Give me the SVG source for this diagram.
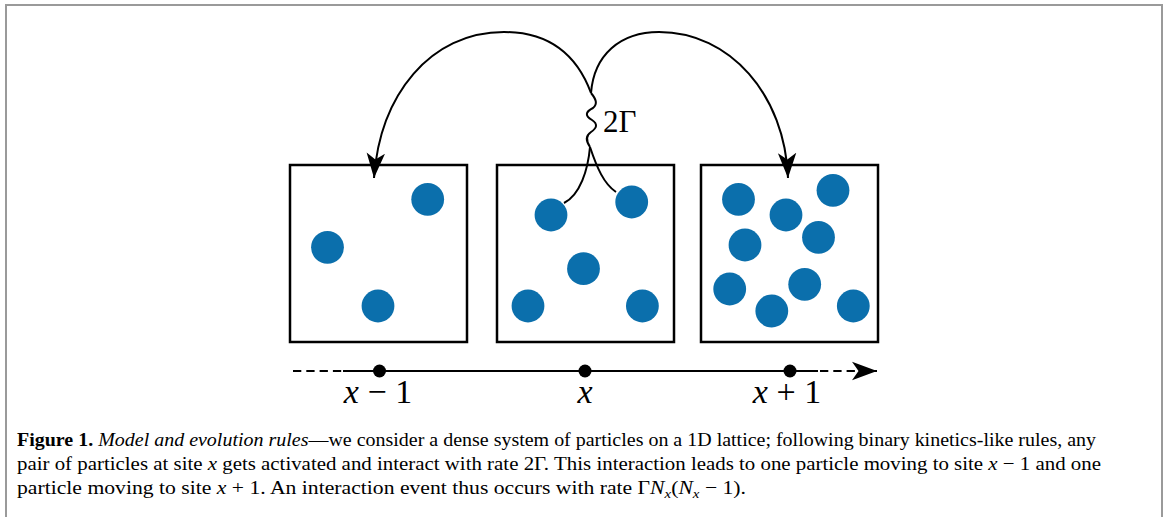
<svg xmlns="http://www.w3.org/2000/svg" width="1168" height="517" viewBox="0 0 1168 517">
<style>
.frame{fill:none;stroke:#9a9a9a;stroke-width:2}
.box{fill:#fff;stroke:#000;stroke-width:2.5}
.p{fill:#0b6fac}
.ln{fill:none;stroke:#000;stroke-width:2}
.dash{fill:none;stroke:#000;stroke-width:2;stroke-dasharray:8.3 5}
.dot{fill:#000}
.math{font-family:"Liberation Serif","DejaVu Serif",serif;fill:#000}
.cap{font-family:"Liberation Serif","DejaVu Serif",serif;font-size:19px;fill:#000}
</style>
<defs>
<marker id="stealth" viewBox="0 0 26 20" refX="25" refY="10" markerWidth="26" markerHeight="20" markerUnits="userSpaceOnUse" orient="auto">
<path d="M25,10 L0,0.8 L6.5,10 L0,19.2 Z" fill="#000"/>
</marker>
</defs>
<rect width="1168" height="517" fill="#fff"/>
<path class="frame" d="M6,520 V5 H1162 V520"/>

<g id="site-left">
<rect class="box" x="290" y="165" width="177" height="177"/>
<circle class="p" cx="427.7" cy="199.3" r="16.4"/>
<circle class="p" cx="327.5" cy="247.3" r="16.4"/>
<circle class="p" cx="378" cy="306" r="16.4"/>
</g>
<g id="site-center">
<rect class="box" x="497" y="165" width="177" height="177"/>
<circle class="p" cx="551" cy="215" r="16.4"/>
<circle class="p" cx="631.7" cy="202" r="16.4"/>
<circle class="p" cx="583.5" cy="268.7" r="16.4"/>
<circle class="p" cx="528" cy="306" r="16.4"/>
<circle class="p" cx="642.4" cy="306" r="16.4"/>
</g>
<g id="site-right">
<rect class="box" x="701" y="165" width="177" height="177"/>
<circle class="p" cx="738.5" cy="199.3" r="16.4"/>
<circle class="p" cx="833" cy="190.3" r="16.4"/>
<circle class="p" cx="786" cy="215" r="16.4"/>
<circle class="p" cx="745" cy="245" r="16.4"/>
<circle class="p" cx="818.5" cy="237.3" r="16.4"/>
<circle class="p" cx="729.7" cy="289" r="16.4"/>
<circle class="p" cx="804.7" cy="284.3" r="16.4"/>
<circle class="p" cx="771.8" cy="311" r="16.4"/>
<circle class="p" cx="853.3" cy="306" r="16.4"/>
</g>

<g id="connectors">
<path class="ln" d="M564,203 C580,195 588,170 590,147"/>
<path class="ln" d="M616,192 C604,184 597,168 590,147"/>
<path class="ln" d="M590,147 C586,141 585,136 591,132 C597,128 598,124 592,120 C585,116 585,112 593,108 C598,104 596,99 591,93"/>
<path class="ln" marker-end="url(#stealth)" d="M591,93 C575,50 545,32 504,32 C430,32 380,95 374,178"/>
<path class="ln" marker-end="url(#stealth)" d="M591,93 C594,55 620,32 659,32 C730,32 785,95 788,178"/>
</g>
<g id="rate-label">
<text class="math" x="603" y="132" font-size="31">2Γ</text>
</g>

<g id="axis">
<path class="dash" d="M293,371 H343"/>
<path class="ln" d="M343,371 H818"/>
<path class="dash" marker-end="url(#stealth)" d="M820,371 H877"/>
<circle class="dot" cx="379.5" cy="371" r="6.5"/>
<circle class="dot" cx="585" cy="371" r="6.5"/>
<circle class="dot" cx="790" cy="371" r="6.5"/>
<text class="math" x="378" y="403" font-size="34" text-anchor="middle"><tspan font-style="italic">x</tspan> − 1</text>
<text class="math" x="585" y="403" font-size="34" text-anchor="middle" font-style="italic">x</text>
<text class="math" x="787" y="403" font-size="34" text-anchor="middle"><tspan font-style="italic">x</tspan> + 1</text>
</g>

<g id="caption">
<text class="cap" x="17" y="446" textLength="1079" lengthAdjust="spacingAndGlyphs"><tspan font-weight="bold">Figure 1.</tspan> <tspan font-style="italic">Model and evolution rules</tspan>—we consider a dense system of particles on a 1D lattice; following binary kinetics-like rules, any</text>
<text class="cap" x="17" y="470" textLength="1084" lengthAdjust="spacingAndGlyphs">pair of particles at site <tspan font-style="italic">x</tspan> gets activated and interact with rate 2Γ. This interaction leads to one particle moving to site <tspan font-style="italic">x</tspan> − 1 and one</text>
<text class="cap" x="17" y="494" textLength="729" lengthAdjust="spacingAndGlyphs">particle moving to site <tspan font-style="italic">x</tspan> + 1. An interaction event thus occurs with rate Γ<tspan font-style="italic">N</tspan><tspan font-style="italic" font-size="13" dy="4">x</tspan><tspan dy="-4">(</tspan><tspan font-style="italic">N</tspan><tspan font-style="italic" font-size="13" dy="4">x</tspan><tspan dy="-4"> − 1).</tspan></text>
</g>
</svg>
